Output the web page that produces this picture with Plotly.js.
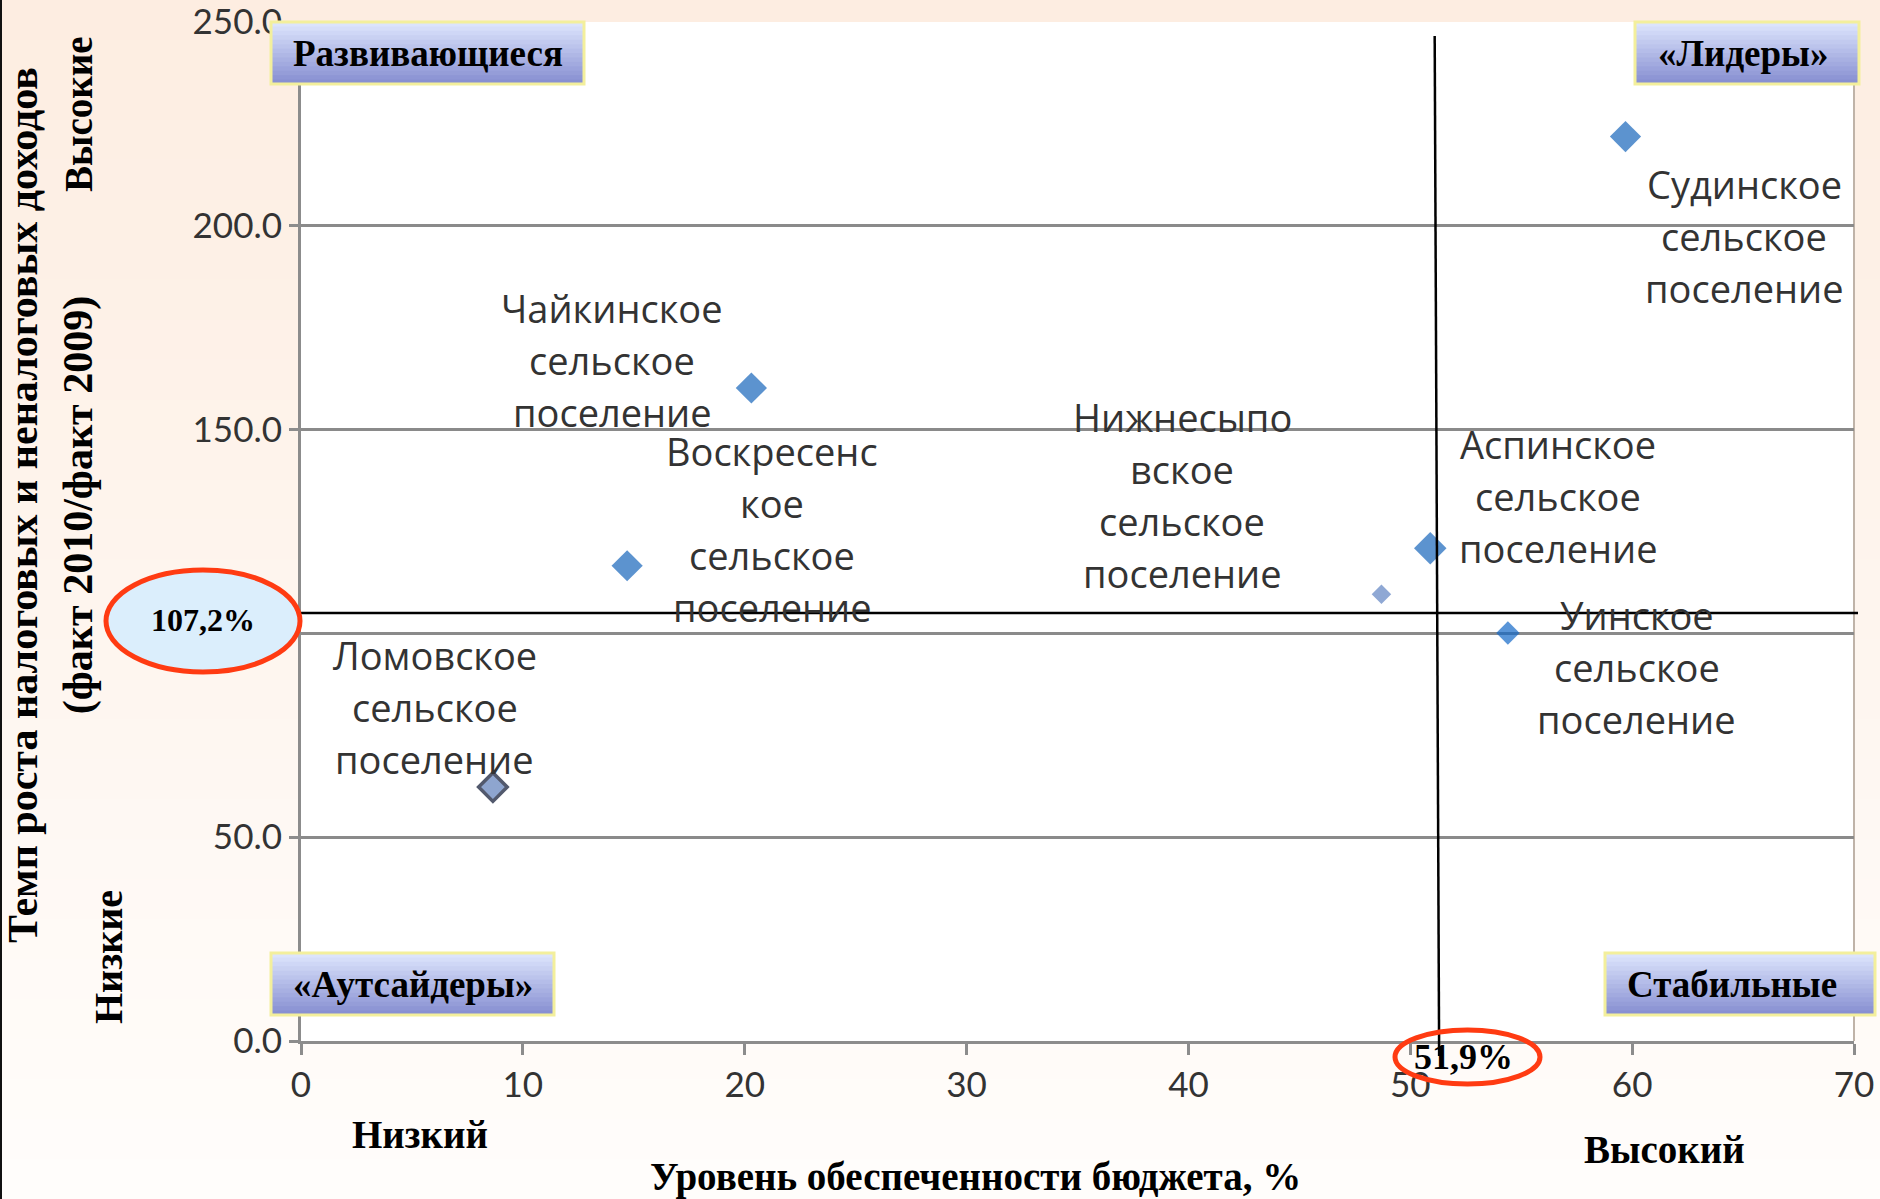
<!DOCTYPE html>
<html><head><meta charset="utf-8">
<script src="https://cdn.plot.ly/plotly-3.0.1.min.js"></script>
<style>html,body{margin:0;padding:0;background:#fff;}#chart{width:1880px;height:1199px;}</style>
</head><body><div id="chart"></div>
<script>
// ---------- DATA ----------
const settlements = ['Судинское сельское поселение','Чайкинское сельское поселение','Воскресенское сельское поселение','Нижнесыповское сельское поселение','Аспинское сельское поселение','Уинское сельское поселение','Ломовское сельское поселение'];
const labelTexts = ['Судинское\nсельское\nпоселение','Чайкинское\nсельское\nпоселение','Воскресенс\nкое\nсельское\nпоселение','Нижнесыпо\nвское\nсельское\nпоселение','Аспинское\nсельское\nпоселение','Уинское\nсельское\nпоселение','Ломовское\nсельское\nпоселение'];
const budgetLevel = [59.7, 20.3, 14.7, 48.7, 50.9, 54.4, 8.65];      // x, %
const growthRate  = [221.9, 160.2, 116.6, 109.6, 120.9, 100.1, 62.3]; // y
const xTicks = [0, 10, 20, 30, 40, 50, 60, 70];
const yTicks = [0, 50, 100, 150, 200, 250];
const quadrantNames = ['Развивающиеся', '«Лидеры»', '«Аутсайдеры»', 'Стабильные'];
const thresholdXLabel = '51,9%';
const thresholdYLabel = '107,2%';
const xTitle = 'Уровень обеспеченности бюджета, %';
const yTitle = 'Темп роста налоговых и неналоговых доходов<br>(факт 2010/факт 2009)';
const xLow = 'Низкий', xHigh = 'Высокий', yLow = 'Низкие', yHigh = 'Высокие';

// ---------- STYLE / POSITIONS ----------
const vLineAt = 51.1, hLineAt = 105.0;   // where the dividing lines are drawn
const L = 301, R = 1854, T = 22, B = 1041;
const W = R - L, H = B - T;
const px = p => (p - L) / W;
const py = p => (B - p) / H;

const markerSizes  = [24, 24, 24, 15, 25, 18, 22];
const markerColors = ['#1765bb','#1765bb','#1765bb','#5f83c2','#1765bb','#1268c8','#5f7fbb'];
const markerLineC  = ['#1765bb','#1765bb','#1765bb','#5f83c2','#1765bb','#1268c8','#0a1430'];
const markerLineW  = [0, 0, 0, 0, 0, 0, 3.5];
const labelOffsets = [[119,-99],[-139,28],[145,37],[-199,99],[128,52],[129,-34],[-58,80]];
const labelLineH = 52;

const serif = 'Liberation Serif, Times New Roman, serif';
const sans = 'Open Sans, sans-serif';

const shapes = [];
const annotations = [];

// background gradient
const NB = 30;
const c0 = [253, 237, 225], c1 = [255, 253, 251];
for (let i = 0; i < NB; i++) {
  const t = i / (NB - 1);
  const c = c0.map((v, k) => Math.round(v + (c1[k] - v) * t));
  shapes.push({type:'rect', xref:'paper', yref:'paper', layer:'below',
    x0: px(0), x1: px(1880), y0: py(i * 1199 / NB), y1: py((i + 1) * 1199 / NB + 1),
    fillcolor: `rgb(${c.join(',')})`, line:{width:0}});
}
// white plot area
shapes.push({type:'rect', xref:'paper', yref:'paper', layer:'below', x0:0, x1:1, y0:0, y1:1, fillcolor:'#ffffff', line:{width:0}});
// left border of slide
shapes.push({type:'line', xref:'paper', yref:'paper', layer:'above', x0:px(1), x1:px(1), y0:py(0), y1:py(1199), line:{color:'#111', width:2}});
// right border of plot
shapes.push({type:'line', xref:'paper', yref:'paper', layer:'below', x0:1, x1:1, y0:0, y1:1, line:{color:'#bfb3a8', width:2}});

// dividing lines
shapes.push({type:'line', xref:'x', yref:'paper', layer:'above', x0:vLineAt, x1:vLineAt + 0.2, y0:py(36), y1:py(1056), line:{color:'#000', width:2.5}});
shapes.push({type:'line', xref:'paper', yref:'y', layer:'above', x0:0, x1:px(1858), y0:hLineAt, y1:hLineAt, line:{color:'#000', width:2.5}});

// quadrant boxes with gradient
const boxes = [[271,584,22,84],[1635,1859,22,84],[271,554,953,1015],[1605,1875,953,1015]];
const boxTextShift = [0, -4, 0, -8];
const g0 = [220, 228, 252], g1 = [136, 144, 210];
boxes.forEach((b, bi) => {
  const [x0, x1, y0, y1] = b;
  const N = 14;
  for (let i = 0; i < N; i++) {
    const t = i / (N - 1);
    const c = g0.map((v, k) => Math.round(v + (g1[k] - v) * t));
    const ya = y0 + (y1 - y0) * i / N, yb = y0 + (y1 - y0) * (i + 1) / N + 0.8;
    shapes.push({type:'rect', xref:'paper', yref:'paper', layer:'above',
      x0:px(x0), x1:px(x1), y0:py(ya), y1:py(Math.min(yb, y1)), fillcolor:`rgb(${c.join(',')})`, line:{width:0}});
  }
  shapes.push({type:'rect', xref:'paper', yref:'paper', layer:'above',
    x0:px(x0), x1:px(x1), y0:py(y0), y1:py(y1), fillcolor:'rgba(0,0,0,0)', line:{color:'#f3ef9c', width:3}});
  annotations.push({xref:'paper', yref:'paper', x:px((x0 + x1) / 2 + boxTextShift[bi]), y:py((y0 + y1) / 2), xanchor:'center', yanchor:'middle',
    text:'<b>' + quadrantNames[bi] + '</b>', showarrow:false, font:{family:serif, size:37, color:'#000'}});
});

// ellipses
shapes.push({type:'circle', xref:'paper', yref:'paper', layer:'above', x0:px(106), x1:px(300), y0:py(570), y1:py(672),
  fillcolor:'#dbeefc', line:{color:'#ff3b12', width:5}});
annotations.push({xref:'paper', yref:'paper', x:px(203), y:py(620), xanchor:'center', yanchor:'middle', showarrow:false,
  text:'<b>' + thresholdYLabel + '</b>', font:{family:serif, size:32, color:'#000'}});
shapes.push({type:'circle', xref:'paper', yref:'paper', layer:'above', x0:px(1395), x1:px(1540), y0:py(1030), y1:py(1084),
  fillcolor:'rgba(0,0,0,0)', line:{color:'#ff3b12', width:5}});
annotations.push({xref:'paper', yref:'paper', x:px(1463), y:py(1057), xanchor:'center', yanchor:'middle', showarrow:false,
  text:'<b>' + thresholdXLabel + '</b>', font:{family:serif, size:36, color:'#000'}});

// axis titles and side labels
annotations.push({xref:'paper', yref:'paper', x:px(51), y:py(505), xanchor:'center', yanchor:'middle', textangle:-90, showarrow:false,
  text:'<b>' + yTitle + '</b>', font:{family:serif, size:42, color:'#000'}});
annotations.push({xref:'paper', yref:'paper', x:px(79), y:py(114), xanchor:'center', yanchor:'middle', textangle:-90, showarrow:false,
  text:'<b>' + yHigh + '</b>', font:{family:serif, size:39, color:'#000'}});
annotations.push({xref:'paper', yref:'paper', x:px(108), y:py(957), xanchor:'center', yanchor:'middle', textangle:-90, showarrow:false,
  text:'<b>' + yLow + '</b>', font:{family:serif, size:40, color:'#000'}});
annotations.push({xref:'paper', yref:'paper', x:px(975), y:py(1177), xanchor:'center', yanchor:'middle', showarrow:false,
  text:'<b>' + xTitle + '</b>', font:{family:serif, size:39, color:'#000'}});
annotations.push({xref:'paper', yref:'paper', x:px(420), y:py(1134), xanchor:'center', yanchor:'middle', showarrow:false,
  text:'<b>' + xLow + '</b>', font:{family:serif, size:39, color:'#000'}});
annotations.push({xref:'paper', yref:'paper', x:px(1664), y:py(1149), xanchor:'center', yanchor:'middle', showarrow:false,
  text:'<b>' + xHigh + '</b>', font:{family:serif, size:39, color:'#000'}});

// data labels (one annotation per line for exact line spacing)
labelTexts.forEach((t, i) => {
  const lines = t.split('\n');
  const n = lines.length;
  lines.forEach((ln, j) => {
    annotations.push({x:budgetLevel[i], y:growthRate[i], xref:'x', yref:'y', showarrow:false,
      xanchor:'center', yanchor:'middle', text:ln,
      xshift:labelOffsets[i][0], yshift:labelOffsets[i][1] - (j - (n - 1) / 2) * labelLineH,
      font:{family:sans, size:38, color:'#333333'}});
  });
});

const trace = {
  type:'scatter', mode:'markers', x:budgetLevel, y:growthRate, text:settlements, hoverinfo:'text+x+y',
  marker:{symbol:'diamond', size:markerSizes, color:markerColors, line:{color:markerLineC, width:markerLineW}},
  cliponaxis:false, showlegend:false
};

const tickFont = {family:'Lato, sans-serif', size:35, color:'#333333'};
const layout = {
  width:1880, height:1199,
  margin:{l:L, r:1880 - R, t:T, b:1199 - B, pad:0},
  paper_bgcolor:'#fefcfa', plot_bgcolor:'rgba(0,0,0,0)',
  showlegend:false,
  xaxis:{range:[0,70], tickvals:xTicks, ticktext:xTicks.map(String), ticks:'outside', ticklen:11, tickwidth:3, tickcolor:'#8c8c8c',
    showline:true, linecolor:'#8c8c8c', linewidth:3, showgrid:false, zeroline:false, ticklabelstandoff:0, ticklabeloverflow:'allow',
    tickfont:tickFont, fixedrange:true},
  yaxis:{range:[0,250], tickvals:yTicks, ticktext:yTicks.map(v => v.toFixed(1)), ticks:'outside', ticklen:9, tickwidth:3, tickcolor:'#8c8c8c',
    showline:true, linecolor:'#8c8c8c', linewidth:3, showgrid:true, gridcolor:'#8a8a8a', gridwidth:3, zeroline:false, ticklabeloverflow:'allow',
    tickfont:tickFont, fixedrange:true},
  shapes:shapes, annotations:annotations
};

Plotly.newPlot('chart', [trace], layout, {displayModeBar:false, staticPlot:true});
</script></body></html>
